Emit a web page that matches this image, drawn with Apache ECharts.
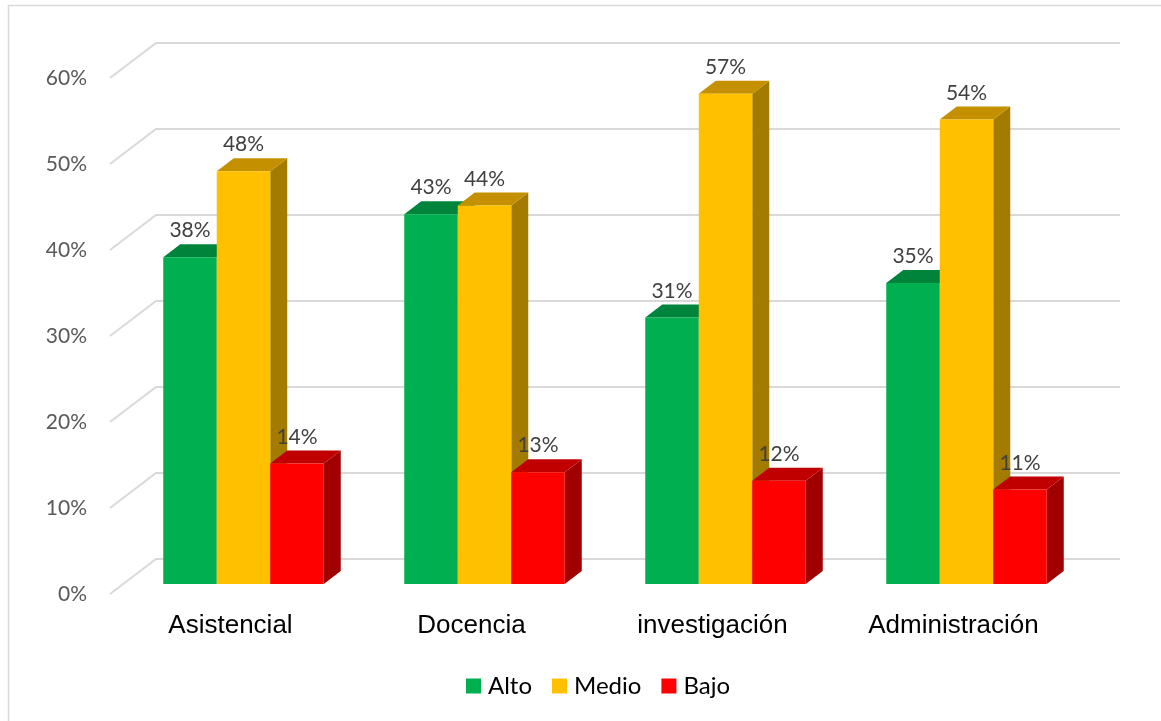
<!DOCTYPE html>
<html>
<head>
<meta charset="utf-8">
<script src="https://cdn.jsdelivr.net/npm/echarts@6/dist/echarts.min.js"></script>
<style>
  html, body { margin: 0; padding: 0; background: #ffffff; }
  #chart { width: 1161px; height: 721px; }
</style>
</head>
<body>
<div id="chart"></div>
<script>
// Categories and percentages per level
const categories = ['Asistencial', 'Docencia', 'investigación', 'Administración'];
const alto  = [38, 43, 31, 35];
const medio = [48, 44, 57, 54];
const bajo  = [14, 13, 12, 11];
const gridTicks = [0, 10, 20, 30, 40, 50, 60];

const seriesNames = ['Alto', 'Medio', 'Bajo'];
const seriesData = [alto, medio, bajo];
// front / top / side shades for each level
const palette = [
  { front: '#00B050', top: '#00843C', side: '#006B30' },
  { front: '#FFC000', top: '#C49000', side: '#A37B00' },
  { front: '#FF0000', top: '#C00000', side: '#A00000' }
];

// Perspective offsets (pixels) relative to the axis plane
const WALL = [46, -35];   // back wall
const FACE = [13, -10];   // front face of the bars
const DEPTH = [17, -13];  // bar depth
const BAR_FRACTION = 0.222;

const chart = echarts.init(document.getElementById('chart'));

function wallRender(params, api) {
  const cs = params.coordSys;
  const v = api.value(0);
  const y = api.coord([0, v])[1];
  const x0 = cs.x;
  const x1 = cs.x + cs.width;
  return {
    type: 'polyline',
    shape: { points: [[x0, y], [x0 + WALL[0], y + WALL[1]], [x1 + WALL[0], y + WALL[1]]] },
    style: { stroke: '#D9D9D9', lineWidth: 2, fill: null },
    silent: true
  };
}

function barRender(si) {
  return function (params, api) {
    const idx = api.value(0);
    const val = api.value(1);
    const catW = api.size([1, 0])[0];
    const w = catW * BAR_FRACTION;
    const top = api.coord([idx, val]);
    const base = api.coord([idx, 0]);
    const cx = top[0] + (si - 1) * w + FACE[0];
    const xl = cx - w / 2, xr = cx + w / 2;
    const yt = top[1] + FACE[1], yb = base[1] + FACE[1];
    const c = palette[si];
    const dx = DEPTH[0], dy = DEPTH[1];
    return {
      type: 'group',
      children: [
        { type: 'polygon', shape: { points: [[xr, yt], [xr + dx, yt + dy], [xr + dx, yb + dy], [xr, yb]] },
          style: { fill: c.side } },
        { type: 'polygon', shape: { points: [[xl, yt], [xl + dx, yt + dy], [xr + dx, yt + dy], [xr, yt]] },
          style: { fill: c.top } },
        { type: 'rect', shape: { x: xl, y: yt, width: w, height: yb - yt },
          style: { fill: c.front } },
        { type: 'text', z2: 100,
          style: { x: cx, y: yt + dy - 3, text: val + '%', align: 'center', verticalAlign: 'bottom',
                   fill: '#404040', font: '21px Lato' } }
      ]
    };
  };
}

const series = [{
  type: 'custom',
  name: 'wall',
  renderItem: wallRender,
  data: gridTicks.map(t => [t]),
  encode: { y: 0 },
  silent: true,
  z: 1
}];
seriesData.forEach((arr, si) => {
  series.push({
    type: 'custom',
    name: seriesNames[si],
    renderItem: barRender(si),
    data: arr.map((v, i) => [i, v]),
    encode: { x: 0, y: 1 },
    itemStyle: { color: palette[si].front },
    z: 2
  });
});

chart.setOption({
  animation: false,
  graphic: [{
    type: 'rect',
    shape: { x: 8.5, y: 5.5, width: 1200, height: 800 },
    style: { fill: null, stroke: '#D9D9D9', lineWidth: 1.5 },
    silent: true
  }],
  grid: { left: 110, right: 87, top: 78, bottom: 127 },
  xAxis: {
    type: 'category',
    data: categories,
    axisLine: { show: false },
    axisTick: { show: false },
    axisLabel: { color: '#000000', fontFamily: 'Liberation Sans', fontSize: 26, margin: 19 }
  },
  yAxis: {
    type: 'value',
    min: 0, max: 60, interval: 10,
    splitLine: { show: false },
    axisLine: { show: false },
    axisLabel: { color: '#595959', fontFamily: 'Lato', fontSize: 21, margin: 23, padding: [3, 0, 0, 0], formatter: '{value}%' }
  },
  legend: {
    data: seriesNames,
    bottom: 18,
    left: 461,
    icon: 'rect',
    itemWidth: 15,
    itemHeight: 15,
    itemGap: 20,
    textStyle: { color: '#000000', fontFamily: 'Lato', fontSize: 24, padding: [0, 0, 0, 2] }
  },
  series: series
});
</script>
</body>
</html>
